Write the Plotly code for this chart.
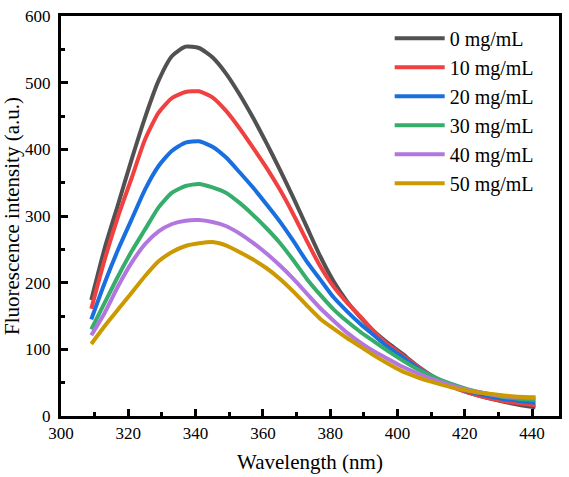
import plotly.graph_objects as go

wavelength = [309, 313, 317, 321, 325, 329, 333, 337, 341, 345, 349, 353, 357, 361, 365, 369,
              373, 377, 381, 385, 389, 393, 397, 401, 406, 411, 416, 421, 426, 431, 436, 441]

c0 = [174, 252, 318, 385, 448, 503, 540, 554, 552, 538, 514, 483, 448, 410, 370, 328,
      284, 240, 202, 172, 148, 127, 110, 95, 75, 58, 45, 35, 28, 22, 17, 13]
c10 = [161, 235, 300, 357, 415, 455, 477, 486, 487, 478, 458, 432, 403, 373, 340, 303,
       263, 225, 194, 170, 149, 127, 108, 93, 74, 57, 44, 35, 28, 23, 19, 16]
c20 = [145, 200, 250, 295, 340, 375, 398, 410, 412, 404, 388, 366, 343, 318, 292, 263,
       232, 205, 178, 157, 138, 121, 104, 90, 72, 57, 46, 37, 31, 26, 23, 20]
c30 = [130, 170, 210, 247, 280, 313, 335, 345, 348, 343, 335, 320, 302, 282, 260, 234,
       206, 182, 160, 142, 126, 112, 98, 85, 70, 58, 48, 40, 34, 29, 26, 24]
c40 = [121, 155, 195, 230, 258, 277, 288, 293, 294, 291, 285, 274, 260, 244, 226, 206,
       184, 162, 143, 125, 110, 97, 86, 75, 64, 54, 46, 39, 34, 30, 28, 27]
c50 = [108, 135, 160, 185, 210, 232, 246, 255, 259, 261, 256, 246, 235, 222, 206, 187,
       166, 146, 131, 117, 104, 91, 79, 68, 58, 50, 43, 38, 34, 31, 29, 28]

series = [c0, c10, c20, c30, c40, c50]
labels = ["0 mg/mL", "10 mg/mL", "20 mg/mL", "30 mg/mL", "40 mg/mL", "50 mg/mL"]
colors = ["#515151", "#F14040", "#1A6FDF", "#37AD6B", "#B177DE", "#CC9900"]

fig = go.Figure()
for ys, name, col in zip(series, labels, colors):
    fig.add_trace(go.Scatter(x=wavelength, y=ys, mode="lines", name=name,
                             line=dict(color=col, width=4, shape="spline", smoothing=0.6)))

font = "Liberation Serif"
axis_common = dict(
    showgrid=False, zeroline=False, showline=True, linewidth=3, linecolor="black",
    mirror=True, ticks="inside", ticklen=7, tickwidth=3, tickcolor="black",
    tickfont=dict(family=font, size=17, color="black"),
)
fig.update_xaxes(range=[300, 448], tick0=300, dtick=20, ticklabelstandoff=0,
                 minor=dict(ticks="inside", ticklen=4, tickwidth=3, tickcolor="black", dtick=10),
                 title=dict(text="Wavelength (nm)", font=dict(family=font, size=21, color="black"), standoff=12),
                 **axis_common)
fig.update_yaxes(range=[0, 600], tick0=0, dtick=100, ticklabelstandoff=4,
                 minor=dict(ticks="inside", ticklen=4, tickwidth=3, tickcolor="black", dtick=50),
                 title=dict(text="Fluorescence intensity (a.u.)", font=dict(family=font, size=21, color="black"), standoff=3),
                 **axis_common)

fig.update_layout(
    width=569, height=477,
    margin=dict(l=60, r=7, t=7, b=61),
    paper_bgcolor="white", plot_bgcolor="white",
    legend=dict(x=0.66, y=0.993, xanchor="left", yanchor="top",
                font=dict(family=font, size=20, color="black"),
                bgcolor="rgba(0,0,0,0)", itemwidth=50, tracegroupgap=0),
)

fig.write_html("out.html")
